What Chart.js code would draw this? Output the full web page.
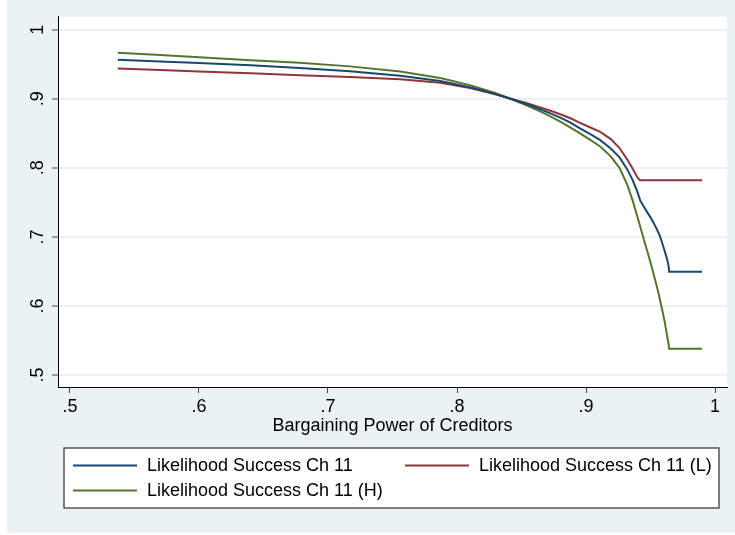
<!DOCTYPE html>
<html>
<head>
<meta charset="utf-8">
<script src="https://cdn.jsdelivr.net/npm/chart.js@4/dist/chart.umd.min.js"></script>
<style>
  body { margin: 0; background: #fff; }
  #wrap { position: absolute; left: 7px; top: 0; width: 728px; height: 533px; background: #eaf2f3; }
</style>
</head>
<body>
<div id="wrap"><canvas id="chart" width="728" height="533"></canvas></div>
<script>
// Valores (poder de barganha dos credores)
const xValues = [0.537, 0.57, 0.60, 0.64, 0.678, 0.717, 0.756, 0.787, 0.81, 0.829, 0.841, 0.853, 0.864, 0.872, 0.88, 0.888,
    0.895, 0.903, 0.911, 0.919, 0.926, 0.932, 0.936, 0.94, 0.942, 0.945, 0.948, 0.951, 0.954, 0.956, 0.957, 0.959,
    0.961, 0.963, 0.964, 0.9645, 0.99];
const successCh11 = [0.9565, 0.9542, 0.9518, 0.9485, 0.9448, 0.9400, 0.9335, 0.9258, 0.9169, 0.9074, 0.9005, 0.8929, 0.8853, 0.8793, 0.8727, 0.8655,
    0.8575, 0.8493, 0.8401, 0.8284, 0.8152, 0.7978, 0.7829, 0.7645, 0.7529, 0.7432, 0.7341, 0.7251, 0.7145, 0.7068, 0.7025, 0.6916,
    0.6797, 0.6667, 0.6580, 0.6497, 0.6497];
const successCh11L = [0.9439, 0.9418, 0.9397, 0.9370, 0.9343, 0.9315, 0.9282, 0.9232, 0.9158, 0.9068, 0.9005, 0.8943, 0.8880, 0.8830, 0.8776, 0.8718,
    0.8654, 0.8588, 0.8520, 0.8420, 0.8287, 0.8120, 0.7993, 0.7858, 0.7822, 0.7822, 0.7822, 0.7822, 0.7822, 0.7822, 0.7822, 0.7822,
    0.7822, 0.7822, 0.7822, 0.7822, 0.7822];
const successCh11H = [0.9667, 0.9635, 0.9602, 0.9560, 0.9523, 0.9470, 0.9395, 0.9302, 0.9198, 0.9087, 0.9005, 0.8914, 0.8822, 0.8748, 0.8670, 0.8584,
    0.8504, 0.8410, 0.8310, 0.8171, 0.8000, 0.7754, 0.7536, 0.7280, 0.7152, 0.6952, 0.6761, 0.6565, 0.6348, 0.6203, 0.6116, 0.5949,
    0.5772, 0.5551, 0.5449, 0.5381, 0.5381];

const seriesLabels = ['Likelihood Success Ch 11', 'Likelihood Success Ch 11 (L)', 'Likelihood Success Ch 11 (H)'];
const seriesColors = ['#1a476f', '#90353b', '#55752f'];

const xTicks = [0.5, 0.6, 0.7, 0.8, 0.9, 1];
const xTickLabels = ['.5', '.6', '.7', '.8', '.9', '1'];
const yTicks = [0.5, 0.6, 0.7, 0.8, 0.9, 1];
const yTickLabels = ['.5', '.6', '.7', '.8', '.9', '1'];

Chart.defaults.font.family = '"Liberation Sans", Arial, sans-serif';
Chart.defaults.font.size = 18;
Chart.defaults.color = '#000';

// Pinta a área do gráfico de branco
const plotBackground = {
    id: 'plotBackground',
    beforeDraw(chart) {
        const { ctx, chartArea: a } = chart;
        ctx.save();
        ctx.fillStyle = '#fff';
        ctx.fillRect(a.left, a.top, a.right - a.left, a.bottom - a.top);
        ctx.restore();
    }
};

// Legenda em caixa, estilo Stata
const boxLegend = {
    id: 'boxLegend',
    afterDraw(chart) {
        const ctx = chart.ctx;
        const sets = chart.data.datasets;
        ctx.save();
        ctx.fillStyle = '#fff';
        ctx.fillRect(57, 448, 655, 60);
        ctx.strokeStyle = '#555';
        ctx.lineWidth = 1.5;
        ctx.strokeRect(57, 448, 655, 60);
        const spots = [[66, 465.5], [398, 465.5], [66, 490.5]];
        ctx.font = '18px "Liberation Sans", Arial, sans-serif';
        ctx.textBaseline = 'middle';
        sets.forEach((ds, i) => {
            const [x, y] = spots[i];
            ctx.strokeStyle = ds.borderColor;
            ctx.lineWidth = 2;
            ctx.beginPath();
            ctx.moveTo(x, y);
            ctx.lineTo(x + 64, y);
            ctx.stroke();
            ctx.fillStyle = '#000';
            ctx.fillText(ds.label, x + 74, y + 1);
        });
        ctx.restore();
    }
};

const series = [successCh11, successCh11L, successCh11H];

new Chart(document.getElementById('chart'), {
    type: 'line',
    data: {
        datasets: series.map((vals, i) => ({
            label: seriesLabels[i],
            data: xValues.map((x, j) => ({ x: x, y: vals[j] })),
            borderColor: seriesColors[i],
            borderWidth: 2,
            pointRadius: 0,
            tension: 0,
            fill: false
        }))
    },
    options: {
        responsive: false,
        animation: false,
        layout: { padding: { top: 16, right: 8, bottom: 0, left: 0 } },
        plugins: { legend: { display: false }, tooltip: { enabled: false } },
        scales: {
            x: {
                type: 'linear',
                min: 0.4907,
                max: 1.0093,
                afterBuildTicks: s => { s.ticks = xTicks.map(v => ({ value: v })); },
                afterFit: s => { s.height = 146; },
                ticks: {
                    callback: (v, i) => xTickLabels[i],
                    autoSkip: false, minRotation: 0, maxRotation: 0, padding: 3
                },
                grid: { drawOnChartArea: false, tickLength: 6, tickColor: '#444', tickWidth: 1 },
                border: { color: '#000', width: 1 },
                title: {
                    display: true,
                    text: 'Bargaining Power of Creditors',
                    padding: { top: 0, bottom: 96 }
                }
            },
            y: {
                min: 0.4826,
                max: 1.0188,
                afterBuildTicks: s => { s.ticks = yTicks.map(v => ({ value: v })); },
                afterFit: s => { s.width = 51; },
                ticks: {
                    callback: (v, i) => yTickLabels[i],
                    autoSkip: false, minRotation: 90, maxRotation: 90,
                    crossAlign: 'center', padding: 6
                },
                grid: { color: '#eaf2f3', lineWidth: 2, tickLength: 6, tickColor: '#444', tickWidth: 1 },
                border: { color: '#000', width: 1 }
            }
        }
    },
    plugins: [plotBackground, boxLegend]
});
</script>
</body>
</html>
